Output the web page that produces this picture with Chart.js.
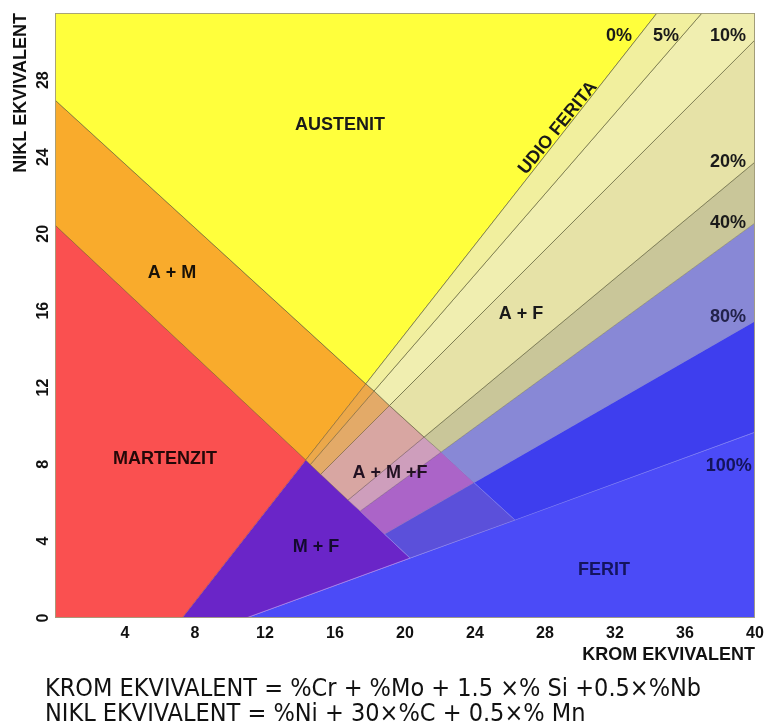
<!DOCTYPE html>
<html><head><meta charset="utf-8">
<script src="https://cdn.jsdelivr.net/npm/chart.js@4.4.0/dist/chart.umd.min.js"></script>
<style>
html,body{margin:0;padding:0;background:#fff;}
#wrap{position:relative;width:776px;height:724px;}
#formulas{position:absolute;left:45px;top:675px;font-family:"DejaVu Sans";font-stretch:condensed;font-size:25px;line-height:25px;color:#111;white-space:nowrap;}
</style></head><body>
<div id="wrap"><canvas id="c" width="776" height="724"></canvas>
<div id="formulas"><div>KROM EKVIVALENT = %Cr + %Mo + 1.5 ×% Si +0.5×%Nb</div><div>NIKL EKVIVALENT = %Ni + 30×%C + 0.5×% Mn</div></div></div>
<script>
// ---- data (Cr-equivalent x, Ni-equivalent y) ----
const xRange = [0, 40];
const yRange = [0, 31.5];
const tickStep = 4;

// phase regions (polygon vertices)
const austenit  = [[0,31.5],[34.4,31.5],[17.76,12.19],[0,26.97]];
const austMart  = [[0,26.97],[17.76,12.19],[14.33,8.23],[0,20.46]];
const martenzit = [[0,20.46],[14.33,8.23],[7.26,0],[0,0]];
const martFerit = [[14.33,8.23],[20.29,3.12],[10.91,0],[7.26,0]];
const ferit     = [[10.91,0],[40,0],[40,9.68]];
// A+F ferrite bands
const af0to5    = [[34.4,31.5],[36.97,31.5],[18.23,11.82],[17.76,12.19]];
const af5to10   = [[36.97,31.5],[40,31.5],[40,30.1],[19.11,11.06],[18.23,11.82]];
const af10to20  = [[40,30.1],[40,23.74],[21.09,9.42],[19.11,11.06]];
const af20to40  = [[40,23.74],[40,20.57],[22.06,8.64],[21.09,9.42]];
const af40to80  = [[40,20.57],[40,15.46],[23.94,7.05],[22.06,8.64]];
const af80to100 = [[40,15.46],[40,9.68],[26.29,5.10],[23.94,7.05]];
// A+M+F ferrite bands
const amf0to5    = [[17.76,12.19],[18.23,11.82],[14.59,7.99],[14.33,8.23]];
const amf5to10   = [[18.23,11.82],[19.11,11.06],[15.18,7.48],[14.59,7.99]];
const amf10to20  = [[19.11,11.06],[21.09,9.42],[16.74,6.14],[15.18,7.48]];
const amf20to40  = [[21.09,9.42],[22.06,8.64],[17.44,5.57],[16.74,6.14]];
const amf40to80  = [[22.06,8.64],[23.94,7.05],[18.83,4.37],[17.44,5.57]];
const amf80to100 = [[23.94,7.05],[26.29,5.10],[20.29,3.12],[18.83,4.37]];

const phaseNames = ['AUSTENIT','A + M','MARTENZIT','A + F','A + M +F','M + F','FERIT'];
const ferriteLevels = ['0%','5%','10%','20%','40%','80%','100%'];

// ---- styling ----
const darkLine = 'rgba(85,85,45,0.6)';
const regionStyles = [
  {pts: af0to5,    fill:'#F1EF9E', line: darkLine},
  {pts: af5to10,   fill:'#F0EEB0', line: darkLine},
  {pts: af10to20,  fill:'#E6E2A7', line: darkLine},
  {pts: af20to40,  fill:'#C9C699', line: 'rgba(120,120,90,0.5)'},
  {pts: af40to80,  fill:'#8888D6', line: 'rgba(120,120,200,0.5)'},
  {pts: af80to100, fill:'#3E3EEE', line: 'rgba(120,120,240,0.5)'},
  {pts: amf0to5,    fill:'#ECA84A', line: 'rgba(110,90,50,0.5)'},
  {pts: amf5to10,   fill:'#E3AA68', line: 'rgba(110,90,50,0.5)'},
  {pts: amf10to20,  fill:'#D8A6A2', line: 'rgba(110,80,80,0.5)'},
  {pts: amf20to40,  fill:'#CE9EBC', line: 'rgba(110,80,110,0.4)'},
  {pts: amf40to80,  fill:'#AB64C8', line: 'rgba(120,80,160,0.4)'},
  {pts: amf80to100, fill:'#5B50DA', line: 'rgba(140,130,230,0.5)'},
  {pts: austenit,  fill:'#FFFF3C', line: darkLine},
  {pts: austMart,  fill:'#F9AB2C', line: 'rgba(110,80,30,0.5)'},
  {pts: martenzit, fill:'#FA5050', line: 'rgba(150,60,60,0.5)'},
  {pts: martFerit, fill:'#6A25C8', line: 'rgba(180,130,230,0.6)'},
  {pts: ferit,     fill:'#4B4BF7', line: 'rgba(170,170,255,0.7)'}
];

const labelFont = 'bold 18px "Liberation Sans", Arial, sans-serif';
const labelDefs = [
  {text: phaseNames[0], x:16.29, y:25.67, color:'#1a1a1a'},
  {text: phaseNames[1], x:6.69,  y:17.96, color:'#1a1208'},
  {text: phaseNames[2], x:6.29,  y:8.28,  color:'#240808'},
  {text: phaseNames[3], x:26.63, y:15.83, color:'#1a1a1a'},
  {text: phaseNames[4], x:19.14, y:7.55,  color:'#221222'},
  {text: phaseNames[5], x:14.91, y:3.70,  color:'#140a30'},
  {text: phaseNames[6], x:31.37, y:2.50,  color:'#14145e'},
  {text: ferriteLevels[0], x:32.23, y:30.30, color:'#1a1a1a'},
  {text: ferriteLevels[1], x:34.91, y:30.30, color:'#1a1a1a'},
  {text: ferriteLevels[2], x:38.46, y:30.30, color:'#1a1a1a'},
  {text: ferriteLevels[3], x:38.46, y:23.74, color:'#1a1a1a'},
  {text: ferriteLevels[4], x:38.46, y:20.57, color:'#1a1a1a'},
  {text: ferriteLevels[5], x:38.46, y:15.67, color:'#22224a'},
  {text: ferriteLevels[6], x:38.50, y:7.91,  color:'#14145a'},
  {text: 'UDIO FERITA', x:28.74, y:25.51, color:'#1a1a1a', angle:-51}
];

const phaseLabelPlugin = {
  id: 'phaseLabels',
  afterDatasetsDraw(chart) {
    const {ctx, scales: {x, y}, chartArea: a} = chart;
    ctx.save();
    ctx.strokeStyle = 'rgba(165,160,125,0.9)';
    ctx.lineWidth = 1;
    ctx.strokeRect(a.left + 0.5, a.top + 0.5, a.right - a.left - 1, a.bottom - a.top - 1);
    ctx.font = labelFont;
    ctx.textAlign = 'center';
    ctx.textBaseline = 'middle';
    labelDefs.forEach(d => {
      ctx.save();
      ctx.translate(x.getPixelForValue(d.x), y.getPixelForValue(d.y));
      if (d.angle) ctx.rotate(d.angle * Math.PI / 180);
      ctx.fillStyle = d.color;
      ctx.fillText(d.text, 0, 0);
      ctx.restore();
    });
    ctx.restore();
  }
};

const tickFont = {family: '"Liberation Sans", Arial, sans-serif', size: 16, weight: 'bold'};

new Chart(document.getElementById('c'), {
  type: 'line',
  data: {
    datasets: regionStyles.map(r => ({
      data: [...r.pts, r.pts[0]].map(([x, y]) => ({x, y})),
      backgroundColor: r.fill,
      borderColor: r.line,
      borderWidth: 1,
      fill: 'shape',
      pointRadius: 0,
      tension: 0
    }))
  },
  options: {
    responsive: false,
    animation: false,
    layout: {padding: {left: 0, top: 13, right: 21, bottom: 56}},
    plugins: {legend: {display: false}, tooltip: {enabled: false}},
    scales: {
      x: {
        type: 'linear', min: xRange[0], max: xRange[1],
        grid: {display: false, drawTicks: false},
        border: {display: false},
        ticks: {stepSize: tickStep, font: tickFont, color: '#111', padding: 6,
                callback: v => (v === 0 ? '' : v)},
        title: {display: true, text: 'KROM EKVIVALENT', align: 'end', color: '#111',
                font: {family: '"Liberation Sans", Arial, sans-serif', size: 18, weight: 'bold'},
                padding: {top: 0, bottom: 2}},
        afterFit: s => { s.height = 50; }
      },
      y: {
        type: 'linear', min: yRange[0], max: yRange[1],
        grid: {display: false, drawTicks: false},
        border: {display: false},
        ticks: {stepSize: tickStep, includeBounds: false, font: tickFont, color: '#111',
                minRotation: 90, maxRotation: 90, crossAlign: 'center', padding: 3},
        title: {display: true, text: 'NIKL EKVIVALENT', align: 'end', color: '#111',
                font: {family: '"Liberation Sans", Arial, sans-serif', size: 18, weight: 'bold'},
                padding: {top: 10, bottom: 0}},
        afterFit: s => { s.width = 55; }
      }
    }
  },
  plugins: [phaseLabelPlugin]
});
</script>
</body></html>
